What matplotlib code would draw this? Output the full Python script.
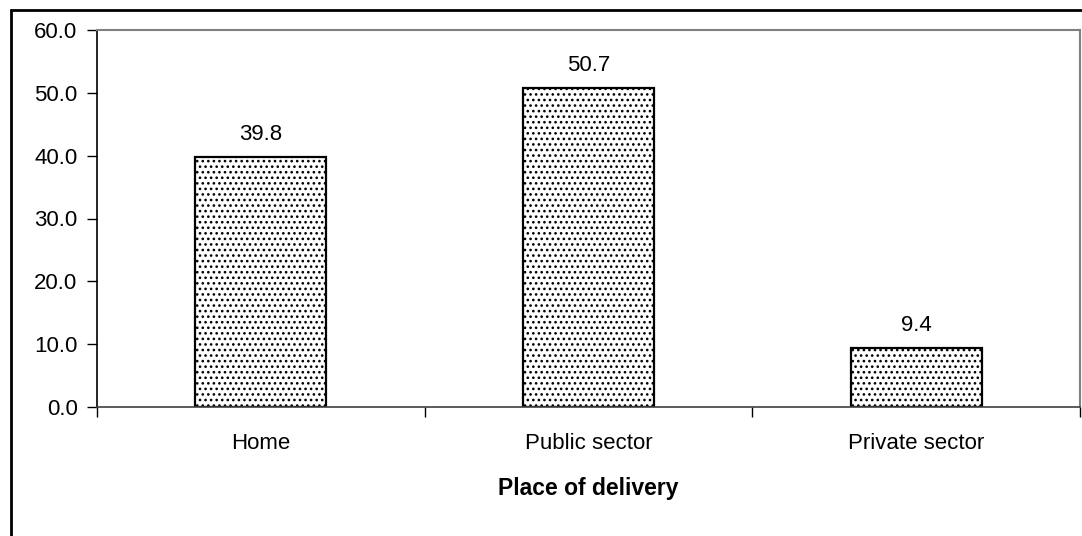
import matplotlib
matplotlib.use("Agg")
import matplotlib.pyplot as plt
from matplotlib.patches import Rectangle

plt.rcParams['font.family'] = ['Liberation Sans', 'DejaVu Sans']
plt.rcParams['hatch.linewidth'] = 1.1
plt.rcParams['hatch.color'] = '#6a6a6a'

categories = ["Home", "Public sector", "Private sector"]
values = [39.8, 50.7, 9.4]
yticks = [0, 10, 20, 30, 40, 50, 60]
xlabel = "Place of delivery"

FS = 16

fig = plt.figure(figsize=(10.82, 5.36), dpi=100)
ax = fig.add_axes([97 / 1082, 1 - 407 / 536, (1080 - 97) / 1082, (407 - 30) / 536])

x = list(range(len(categories)))
bars = ax.bar(x, values, width=0.4, color='white', edgecolor='black',
              linewidth=1.6, hatch='...', zorder=2)
for xi, v in zip(x, values):
    ax.text(xi, v + 1.9, f"{v:.1f}", ha='center', va='bottom', fontsize=FS)

ax.set_xlim(-0.5, len(categories) - 0.5)
ax.set_ylim(0, 60)
ax.set_yticks(yticks)
ax.set_yticklabels([f"{t:.1f}" for t in yticks], fontsize=FS)
ax.set_xticks([i - 0.5 for i in range(len(categories) + 1)])
ax.set_xticklabels([])
ax.set_xticks(x, minor=True)
ax.set_xticklabels(categories, minor=True, fontsize=FS)
ax.tick_params(axis='x', which='minor', length=0, pad=19)
ax.tick_params(axis='x', which='major', direction='out', length=7, width=1)
ax.tick_params(axis='y', direction='out', length=7, width=1, pad=7)
ax.set_xlabel(xlabel, fontsize=16.5, fontweight='bold', labelpad=16)

for side in ('top', 'right'):
    ax.spines[side].set_color('#808080')
    ax.spines[side].set_linewidth(1.5)
ax.spines['left'].set_color('black')
ax.spines['bottom'].set_color('#404040')
ax.spines['left'].set_linewidth(1.2)
ax.spines['bottom'].set_linewidth(1.2)

# outer chart frame
fig.patches.append(Rectangle((11 / 1082, -0.05), 1.2, 1 - 10 / 536 + 0.05,
                             transform=fig.transFigure, fill=False,
                             edgecolor='black', linewidth=2))

fig.savefig("out.png", dpi=100)
